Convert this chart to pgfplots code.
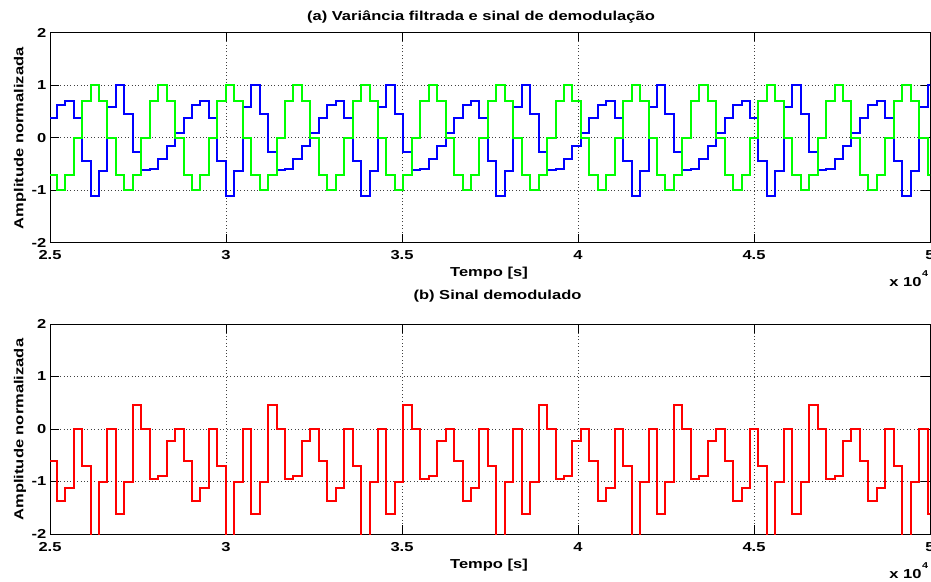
\documentclass[border=0pt]{standalone}
\usepackage{fontspec}
\setmainfont{Liberation Sans}[FakeStretch=1.27]
\usepackage{pgfplots}
\usepackage{pgfplotstable}
\pgfplotsset{compat=1.18}
\definecolor{mblue}{RGB}{0,0,255}
\definecolor{mgreen}{RGB}{0,255,0}
\definecolor{mred}{RGB}{255,0,0}
\newcommand\lbl{\bfseries\fontsize{13}{15}\selectfont}

\pgfplotstableread{
x b g r
24949.8 0.37 -0.707 -0.6
25190.0 0.615 -1 -1.38
25430.2 0.705 -0.707 -1.13
25670.4 0.37 0 0
25910.6 -0.436 0.707 -0.71
26150.8 -1.11 1 -2.55
26391.0 -0.63 0.707 -1.0
26631.2 0.58 0 0
26871.4 1.0 -0.707 -1.62
27111.6 0.45 -1 -1.0
27351.8 -0.27 -0.707 0.45
27592.0 -0.615 0 0
27832.2 -0.596 0.707 -0.95
28072.4 -0.40 1 -0.9
28312.6 -0.16 0.707 -0.23
28552.8 0.096 0 0
28793.0 0.37 -0.707 -0.6
29033.2 0.615 -1 -1.38
29273.4 0.705 -0.707 -1.13
29513.6 0.37 0 0
29753.8 -0.436 0.707 -0.71
29994.0 -1.11 1 -2.55
30234.2 -0.63 0.707 -1.0
30474.4 0.58 0 0
30714.6 1.0 -0.707 -1.62
30954.8 0.45 -1 -1.0
31195.0 -0.27 -0.707 0.45
31435.2 -0.615 0 0
31675.4 -0.596 0.707 -0.95
31915.6 -0.40 1 -0.9
32155.8 -0.16 0.707 -0.23
32396.0 0.096 0 0
32636.2 0.37 -0.707 -0.6
32876.4 0.615 -1 -1.38
33116.6 0.705 -0.707 -1.13
33356.8 0.37 0 0
33597.0 -0.436 0.707 -0.71
33837.2 -1.11 1 -2.55
34077.4 -0.63 0.707 -1.0
34317.6 0.58 0 0
34557.8 1.0 -0.707 -1.62
34798.0 0.45 -1 -1.0
35038.2 -0.27 -0.707 0.45
35278.4 -0.615 0 0
35518.6 -0.596 0.707 -0.95
35758.8 -0.40 1 -0.9
35999.0 -0.16 0.707 -0.23
36239.2 0.096 0 0
36479.4 0.37 -0.707 -0.6
36719.6 0.615 -1 -1.38
36959.8 0.705 -0.707 -1.13
37200.0 0.37 0 0
37440.2 -0.436 0.707 -0.71
37680.4 -1.11 1 -2.55
37920.6 -0.63 0.707 -1.0
38160.8 0.58 0 0
38401.0 1.0 -0.707 -1.62
38641.2 0.45 -1 -1.0
38881.4 -0.27 -0.707 0.45
39121.6 -0.615 0 0
39361.8 -0.596 0.707 -0.95
39602.0 -0.40 1 -0.9
39842.2 -0.16 0.707 -0.23
40082.4 0.096 0 0
40322.6 0.37 -0.707 -0.6
40562.8 0.615 -1 -1.38
40803.0 0.705 -0.707 -1.13
41043.2 0.37 0 0
41283.4 -0.436 0.707 -0.71
41523.6 -1.11 1 -2.55
41763.8 -0.63 0.707 -1.0
42004.0 0.58 0 0
42244.2 1.0 -0.707 -1.62
42484.4 0.45 -1 -1.0
42724.6 -0.27 -0.707 0.45
42964.8 -0.615 0 0
43205.0 -0.596 0.707 -0.95
43445.2 -0.40 1 -0.9
43685.4 -0.16 0.707 -0.23
43925.6 0.096 0 0
44165.8 0.37 -0.707 -0.6
44406.0 0.615 -1 -1.38
44646.2 0.705 -0.707 -1.13
44886.4 0.37 0 0
45126.6 -0.436 0.707 -0.71
45366.8 -1.11 1 -2.55
45607.0 -0.63 0.707 -1.0
45847.2 0.58 0 0
46087.4 1.0 -0.707 -1.62
46327.6 0.45 -1 -1.0
46567.8 -0.27 -0.707 0.45
46808.0 -0.615 0 0
47048.2 -0.596 0.707 -0.95
47288.4 -0.40 1 -0.9
47528.6 -0.16 0.707 -0.23
47768.8 0.096 0 0
48009.0 0.37 -0.707 -0.6
48249.2 0.615 -1 -1.38
48489.4 0.705 -0.707 -1.13
48729.6 0.37 0 0
48969.8 -0.436 0.707 -0.71
49210.0 -1.11 1 -2.55
49450.2 -0.63 0.707 -1.0
49690.4 0.58 0 0
49930.6 1.0 -0.707 -1.62
50170.8 0.45 -1 -1.0
}\sig

\pgfplotsset{
  matstyle/.style={
    scale only axis, width=880pt, height=210pt,
    xmin=25000, xmax=50000, ymin=-2, ymax=2,
    xtick={25000,30000,35000,40000,45000,50000},
    xticklabels={2.5,3,3.5,4,4.5,5},
    scaled x ticks=false,
    ytick={-2,-1,0,1,2},
    yticklabels={-2,-1,0,1,2},
    grid=major,
    major grid style={black!75, line width=0.6pt, dash pattern=on 0.8pt off 2.6pt},
    tick align=inside, major tick length=8.8pt,
    tick style={black, line width=0.9pt},
    axis line style={black, line width=1pt},
    xticklabel style={font=\lbl, anchor=base, yshift=-17.3pt},
    yticklabel style={font=\lbl, anchor=east, inner sep=0pt, xshift=-3.5pt},
    clip=true,
  },
}

\begin{document}
\begin{tikzpicture}[x=1pt,y=1pt]
\path[use as bounding box] (0,0) rectangle (931,581);
\begin{axis}[matstyle, at={(50pt,338.3pt)}, anchor=south west]
\addplot[draw=mblue, line width=2pt, const plot, mark=none] table[x=x,y=b]{\sig};
\addplot[draw=mgreen, line width=2pt, const plot, mark=none] table[x=x,y=g]{\sig};
\end{axis}
\begin{axis}[matstyle, at={(50pt,47pt)}, anchor=south west]
\addplot[draw=mred, line width=2pt, const plot, mark=none] table[x=x,y=r]{\sig};
\end{axis}
% titles and labels
\node[font=\lbl, anchor=base] at (481,560.3) {(a) Variância filtrada e sinal de demodulação};
\node[font=\lbl, anchor=base] at (497.5,281.7) {(b) Sinal demodulado};
\node[font=\lbl, anchor=base] at (489,304) {Tempo [s]};
\node[font=\lbl, anchor=base] at (489,12.7) {Tempo [s]};
\node[font=\lbl, anchor=base, rotate=90] at (23.5,442.7) {Amplitude normalizada};
\node[font=\lbl, anchor=base, rotate=90] at (23.5,151.4) {Amplitude normalizada};
\node[font=\lbl, anchor=base east, inner sep=0pt] at (921.7,294.3) {x 10};
\node[font=\bfseries\fontsize{8.5}{9}\selectfont, anchor=base west, inner sep=0pt] at (922,304.3) {4};
\node[font=\lbl, anchor=base east, inner sep=0pt] at (921.7,3.0) {x 10};
\node[font=\bfseries\fontsize{8.5}{9}\selectfont, anchor=base west, inner sep=0pt] at (922,13.0) {4};
\end{tikzpicture}
\end{document}
